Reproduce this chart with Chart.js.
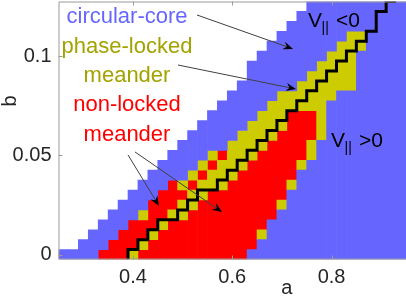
<!DOCTYPE html>
<html>
<head>
<meta charset="utf-8">
<script src="https://cdn.jsdelivr.net/npm/chart.js@4.4.1/dist/chart.umd.min.js"></script>
<style>
  html, body { margin: 0; padding: 0; background: #fff; }
  canvas { display: block; }
</style>
</head>
<body>
<canvas id="chart" width="406" height="297"></canvas>
<script>
// cell centres on the a axis (columns) and b axis (rows)
const aValues = [0.26, 0.28, 0.30, 0.32, 0.34, 0.36, 0.38, 0.40, 0.42, 0.44, 0.46, 0.48,
  0.50, 0.52, 0.54, 0.56, 0.58, 0.60, 0.62, 0.64, 0.66, 0.68, 0.70, 0.72, 0.74, 0.76,
  0.78, 0.80, 0.82, 0.84, 0.86, 0.88, 0.90, 0.92, 0.94];
const bValues = [0, 0.005, 0.01, 0.015, 0.02, 0.025, 0.03, 0.035, 0.04, 0.045, 0.05,
  0.055, 0.06, 0.065, 0.07, 0.075, 0.08, 0.085, 0.09, 0.095, 0.1, 0.105, 0.11, 0.115,
  0.12, 0.125];

// regime of every cell, one row per b value (bottom row first), run-length coded
// . = no data, B = circular-core, Y = phase-locked meander, R = non-locked meander
const regimeRows = [
  'B4 R3 Y1 R11 B16',
  '.2 B3 R3 Y1 R11 B15',
  '.3 B3 R3 Y1 R10 Y1 B14',
  '.4 B3 R3 Y1 R10 B14',
  '.5 B3 Y1 R2 Y2 R9 B13',
  '.6 B3 R3 Y2 R8 Y1 B12',
  '.7 B3 R3 Y2 R8 B12',
  '.8 B3 R1 Y1 R1 Y3 R6 Y1 B11',
  '.9 B4 Y1 R1 Y3 R6 B11',
  '.10 B4 Y1 R1 Y3 R5 Y1 B10',
  '.11 B4 Y1 R1 Y3 R5 Y1 B9',
  '.12 B5 Y4 R4 Y1 B9',
  '.13 B5 Y4 R4 Y1 B8',
  '.14 B5 Y4 R3 Y1 B8',
  '.15 B5 Y3 R3 Y1 B8',
  '.16 B5 Y6 B8',
  '.17 B5 Y6 B7',
  '.18 B6 Y6 B5',
  '.19 B6 Y5 B5',
  '.19 B7 Y4 B5',
  '.20 B7 Y3 B5',
  '.21 B7 Y3 B4',
  '.22 B7 Y2 B4',
  '.23 B12',
  '.24 B11',
  '.25 B10'
];

// V_|| = 0 boundary: a position of its vertical step in each row
const zeroLineA = [0.39, 0.41, 0.43, 0.45, 0.49, 0.51, 0.53, 0.57, 0.59, 0.61, 0.63, 0.65,
  0.67, 0.69, 0.71, 0.73, 0.75, 0.77, 0.79, 0.81, 0.83, 0.85, 0.87, 0.89, 0.89, 0.91];
const zeroLineEndA = 0.93;

const xTicks = [0.4, 0.6, 0.8];
const yTicks = [0, 0.05, 0.1];

const HALF_B = 0.0025;   // half a row
const FONT = '"Liberation Sans", Arial, Helvetica, sans-serif';

const regimes = [
  { key: 'B', label: 'circular-core', color: '#6666ff' },
  { key: 'Y', label: 'phase-locked meander', color: '#cccc00' },
  { key: 'R', label: 'non-locked meander', color: '#ff0000' }
];

function expandRow(spec) {
  let out = '';
  spec.split(' ').forEach(tok => { out += tok[0].repeat(+tok.slice(1)); });
  return out;
}
const grid = regimeRows.map(expandRow);

// merge vertical runs of the same regime into one floating bar
function cellBars(key) {
  const bars = [];
  aValues.forEach((a, i) => {
    let start = -1;
    for (let j = 0; j <= bValues.length; j++) {
      const on = j < bValues.length && grid[j][i] === key;
      if (on && start < 0) start = j;
      if (!on && start >= 0) {
        bars.push({ x: a, y: [bValues[start] - HALF_B, bValues[j - 1] + HALF_B] });
        start = -1;
      }
    }
  });
  return bars;
}

const linePts = [];
zeroLineA.forEach((a, j) => {
  linePts.push({ x: a, y: bValues[j] - HALF_B });
  linePts.push({ x: a, y: bValues[j] + HALF_B });
});
linePts.push({ x: zeroLineEndA, y: bValues[bValues.length - 1] + HALF_B });

const datasets = regimes.map(r => ({
  type: 'bar',
  label: r.label,
  data: cellBars(r.key),
  backgroundColor: r.color,
  borderWidth: 0,
  grouped: false,
  barPercentage: 1,
  categoryPercentage: 1,
  order: 2
}));
datasets.push({
  type: 'line',
  label: 'V=0',
  data: linePts,
  borderColor: '#000',
  borderWidth: 3,
  pointRadius: 0,
  tension: 0,
  borderJoinStyle: 'miter',
  order: 0
});

// text and arrows, placed in data units
const notes = [
  { text: 'circular-core', a: 0.388, b: 0.1167, color: '#6666ff' },
  { text: 'phase-locked', a: 0.388, b: 0.1018, color: '#a3a300' },
  { text: 'meander', a: 0.388, b: 0.0869, color: '#a3a300' },
  { text: 'non-locked', a: 0.388, b: 0.0721, color: '#ff0000' },
  { text: 'meander', a: 0.388, b: 0.0572, color: '#ff0000' }
];
const arrows = [
  [0.529, 0.1207, 0.7224, 0.1036],
  [0.4907, 0.0955, 0.7284, 0.0834],
  [0.390, 0.0502, 0.4525, 0.0245],
  [0.4041, 0.0517, 0.5794, 0.0214]
];
const vLabels = [
  { sign: '<0', a: 0.7526, b: 0.1147 },
  { sign: '>0', a: 0.799, b: 0.0542 }
];

function drawArrow(ctx, x0, y0, x1, y1) {
  const ang = Math.atan2(y1 - y0, x1 - x0);
  ctx.strokeStyle = '#404040';
  ctx.lineWidth = 1;
  ctx.beginPath();
  ctx.moveTo(x0, y0);
  ctx.lineTo(x1 - 6 * Math.cos(ang), y1 - 6 * Math.sin(ang));
  ctx.stroke();
  ctx.save();
  ctx.translate(x1, y1);
  ctx.rotate(ang);
  ctx.fillStyle = '#000';
  ctx.beginPath();
  ctx.moveTo(0, 0);
  ctx.lineTo(-10, -4);
  ctx.lineTo(-6.5, 0);
  ctx.lineTo(-10, 4);
  ctx.closePath();
  ctx.fill();
  ctx.restore();
}

const decor = {
  id: 'decor',
  afterDraw(chart) {
    const { ctx, chartArea: ca, scales: { x, y } } = chart;
    ctx.save();
    // axes box and inward ticks
    ctx.strokeStyle = '#9a9a9a';
    ctx.lineWidth = 1;
    ctx.beginPath();
    ctx.moveTo(ca.right, ca.top + 0.5);
    ctx.lineTo(ca.left + 0.5, ca.top + 0.5);
    ctx.lineTo(ca.left + 0.5, ca.bottom - 0.5);
    ctx.lineTo(ca.right, ca.bottom - 0.5);
    xTicks.forEach(v => {
      const px = Math.round(x.getPixelForValue(v)) + 0.5;
      ctx.moveTo(px, ca.top); ctx.lineTo(px, ca.top + 4);
      ctx.moveTo(px, ca.bottom); ctx.lineTo(px, ca.bottom - 4);
    });
    yTicks.forEach(v => {
      const py = Math.round(y.getPixelForValue(v)) + 0.5;
      ctx.moveTo(ca.left, py); ctx.lineTo(ca.left + 4, py);
    });
    ctx.stroke();

    // regime labels
    ctx.font = '22px ' + FONT;
    ctx.textAlign = 'center';
    ctx.textBaseline = 'alphabetic';
    notes.forEach(n => {
      ctx.fillStyle = n.color;
      ctx.fillText(n.text, x.getPixelForValue(n.a), y.getPixelForValue(n.b));
    });

    arrows.forEach(([a0, b0, a1, b1]) => {
      drawArrow(ctx, x.getPixelForValue(a0), y.getPixelForValue(b0),
        x.getPixelForValue(a1), y.getPixelForValue(b1));
    });

    // V_|| labels
    ctx.fillStyle = '#000';
    ctx.textAlign = 'left';
    vLabels.forEach(v => {
      const px = x.getPixelForValue(v.a), py = y.getPixelForValue(v.b);
      ctx.font = '21px ' + FONT;
      ctx.fillText('V', px, py);
      ctx.font = '14px ' + FONT;
      ctx.fillText('||', px + 13.5, py + 5);
      ctx.font = '21px ' + FONT;
      ctx.fillText(v.sign, px + 28, py);
    });

    // axis titles
    ctx.fillStyle = '#262626';
    ctx.font = '20px ' + FONT;
    ctx.textAlign = 'center';
    ctx.fillText('a', x.getPixelForValue(0.71), ca.bottom + 34);
    ctx.translate(15.5, y.getPixelForValue(0.0774));
    ctx.rotate(-Math.PI / 2);
    ctx.fillText('b', 0, 0);
    ctx.restore();
  }
};

// stop the scales from reserving room for half a tick label at their ends
function noEndPadding(s) {
  s.paddingTop = 0;
  s.paddingBottom = 0;
  s.paddingLeft = 0;
  s.paddingRight = 0;
}

new Chart(document.getElementById('chart'), {
  type: 'bar',
  data: { datasets },
  options: {
    responsive: false,
    animation: false,
    devicePixelRatio: 1,
    layout: { padding: { top: 1.5, right: 0, bottom: 0, left: 0 } },
    plugins: { legend: { display: false }, tooltip: { enabled: false } },
    scales: {
      x: {
        type: 'linear',
        min: 0.25,
        max: 0.95,
        offset: false,
        grid: { display: false, drawTicks: false },
        border: { display: false },
        ticks: {
          color: '#262626',
          font: { family: FONT, size: 20 },
          padding: 6,
          maxRotation: 0,
          callback: v => String(v)
        },
        afterBuildTicks: s => { s.ticks = xTicks.map(v => ({ value: v })); },
        afterFit: s => { s.height = 37.5; noEndPadding(s); }
      },
      y: {
        type: 'linear',
        min: -0.0025,
        max: 0.1275,
        grid: { display: false, drawTicks: false },
        border: { display: false },
        ticks: {
          color: '#262626',
          font: { family: FONT, size: 20 },
          padding: 7,
          callback: v => String(v)
        },
        afterBuildTicks: s => { s.ticks = yTicks.map(v => ({ value: v })); },
        afterFit: s => { s.width = 58.5; noEndPadding(s); }
      }
    }
  },
  plugins: [decor]
});
</script>
</body>
</html>
